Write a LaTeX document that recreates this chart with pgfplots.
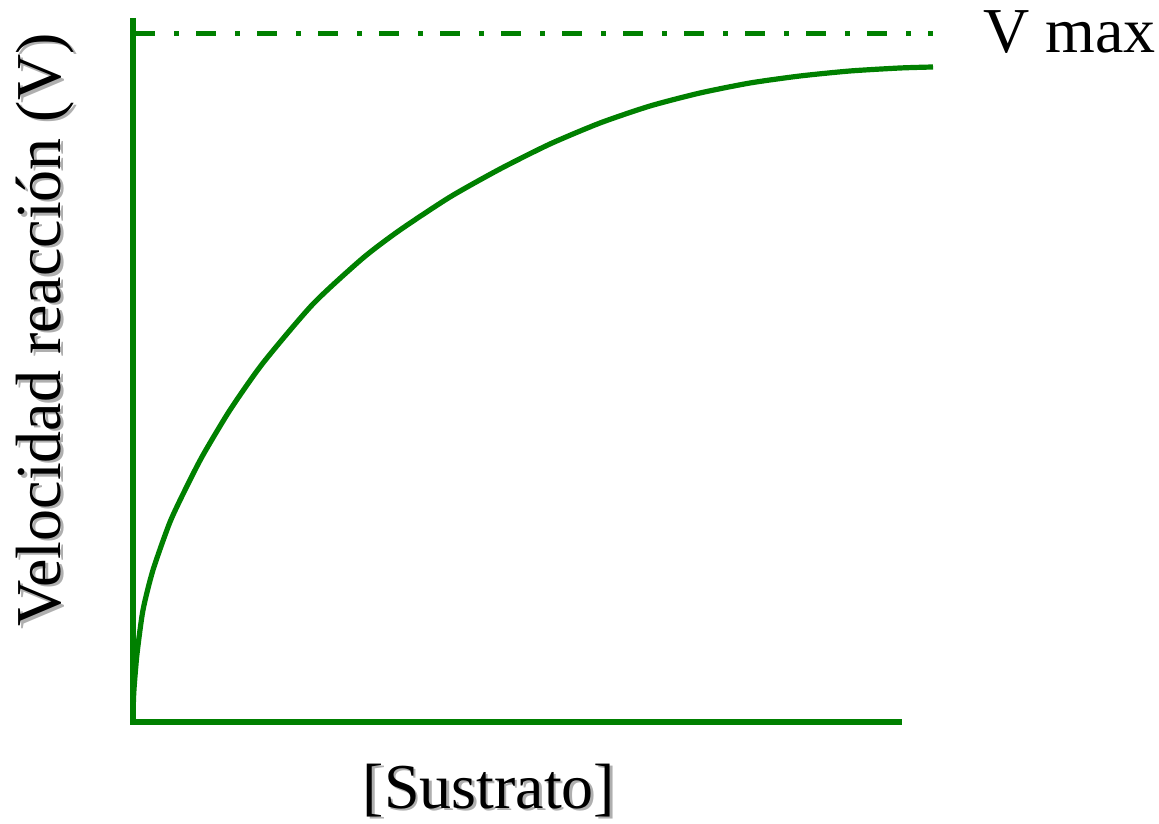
\documentclass[border=0pt]{standalone}
\usepackage{pgfplots}
\pgfplotsset{compat=1.18}
\usepackage{fontspec}
\setmainfont{Liberation Serif}
\newfontfamily\labfont{Liberation Serif}
\definecolor{mmgreen}{RGB}{0,128,0}
\definecolor{shadowgray}{RGB}{175,175,175}
\begin{document}
\begin{tikzpicture}
\path[use as bounding box] (-66.5pt,-50.5pt) rectangle (513pt,361pt);
\begin{axis}[scale only axis, width=400pt, height=352pt,
  xmin=0, xmax=800, ymin=0, ymax=704, hide axis, clip=false]
\draw[mmgreen, line width=3pt] (axis cs:0,704) -- (axis cs:0,0) -- (axis cs:769,0);
\addplot[mmgreen, line width=2.5pt, dash pattern=on 10pt off 9.5pt on 2.5pt off 8.5pt]
  coordinates {(2,688) (800,688)};
\addplot[mmgreen, line width=2.6pt, smooth, tension=0.4] coordinates {
(0,0) (0.3,17) (1,33) (4,68) (10,112) (20,152) (37,200) (54,236) (70,267)
(97,312) (130,359) (180,418) (230,464) (267,492) (317,525) (367,553) (417,578)
(467,599) (517,616) (567,629) (617,639) (667,646) (717,651) (767,654) (800,655)};
\end{axis}
% labels (1 axis unit = 0.5pt, axis origin at (0,0))
\node[anchor=base, inner sep=0pt, text=shadowgray, font=\labfont\fontsize{32}{38}\selectfont]
  at (179.2pt,-44.2pt) {[Sustrato]};
\node[anchor=base, inner sep=0pt, font=\labfont\fontsize{32}{38}\selectfont]
  at (178pt,-43pt) {[Sustrato]};
\node[anchor=base, rotate=90, inner sep=0pt, text=shadowgray, font=\labfont\fontsize{32}{38}\selectfont]
  at (-34.8pt,194.8pt) {Velocidad reacción (V)};
\node[anchor=base, rotate=90, inner sep=0pt, font=\labfont\fontsize{32}{38}\selectfont]
  at (-36pt,196pt) {Velocidad reacción (V)};
\node[anchor=base west, inner sep=0pt, font=\labfont\fontsize{32}{38}\selectfont]
  at (425pt,334.5pt) {V max};
\end{tikzpicture}
\end{document}
